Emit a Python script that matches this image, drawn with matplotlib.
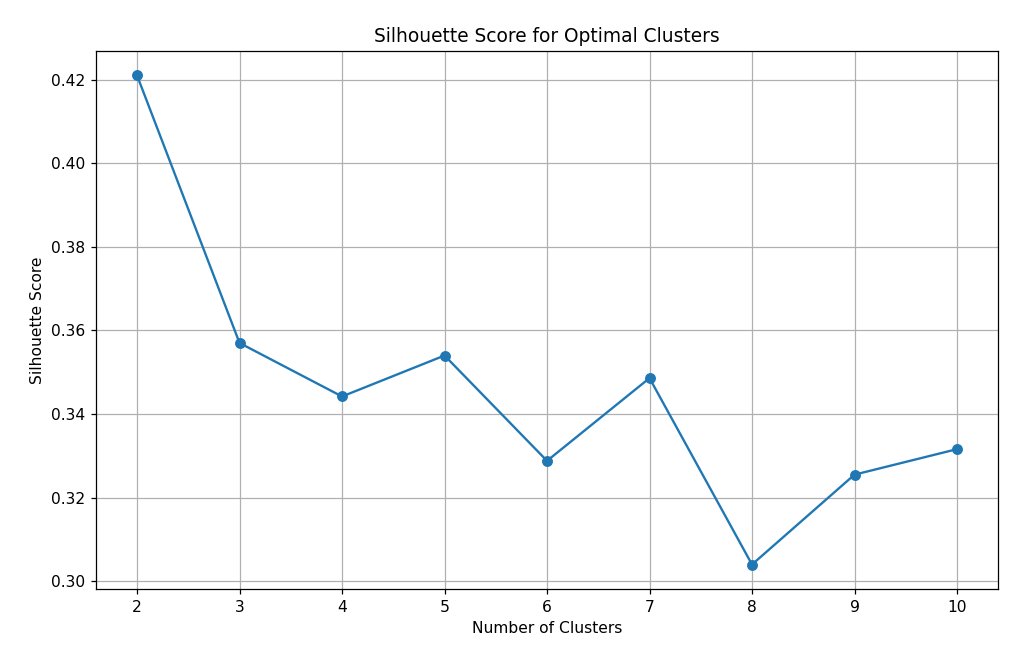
import matplotlib
matplotlib.use("Agg")
import matplotlib.pyplot as plt

n_clusters = [2, 3, 4, 5, 6, 7, 8, 9, 10]
silhouette_scores = [0.4210, 0.3570, 0.3442, 0.3540, 0.3288, 0.3486, 0.3040, 0.3255, 0.3316]

fig = plt.figure(figsize=(1024 / 112, 649 / 112), dpi=112)
plt.plot(n_clusters, silhouette_scores, marker='o')
plt.title("Silhouette Score for Optimal Clusters")
plt.xlabel("Number of Clusters")
plt.ylabel("Silhouette Score")
plt.xticks(n_clusters)
plt.grid(True)
plt.subplots_adjust(left=0.0938, right=0.9746, top=0.9214, bottom=0.0925)
plt.savefig("out.png", dpi=112)
plt.close()
